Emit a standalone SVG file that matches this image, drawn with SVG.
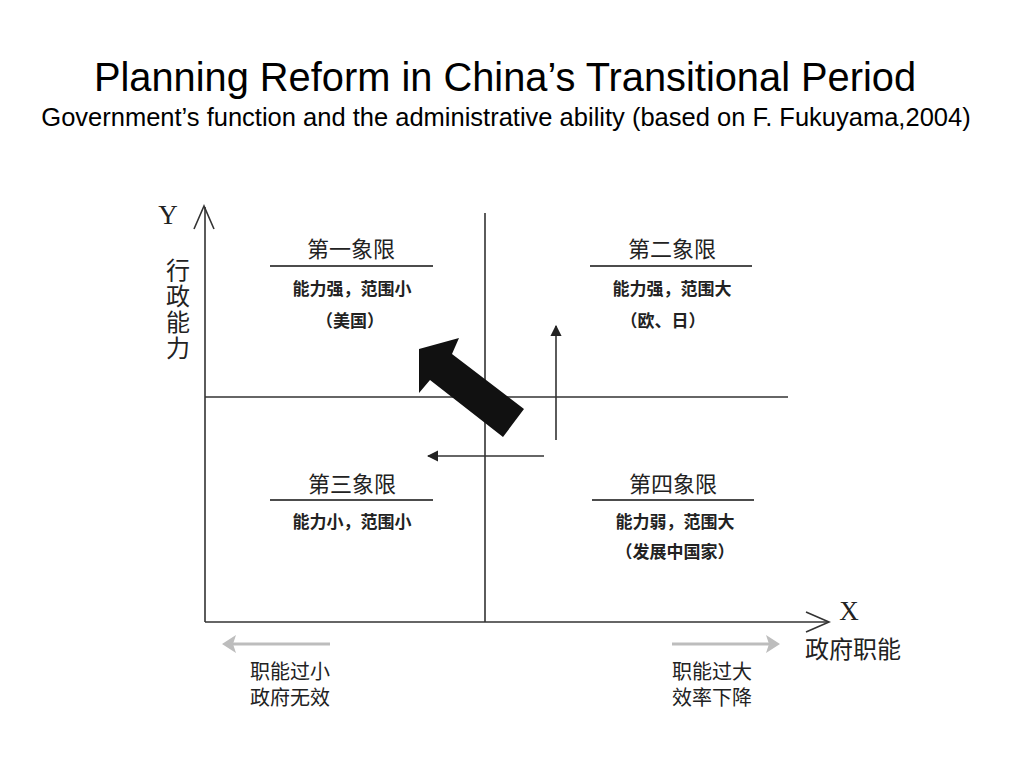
<svg xmlns="http://www.w3.org/2000/svg" width="1024" height="768" viewBox="0 0 1024 768">
<defs>
<style>
.t{font-family:"Liberation Sans",Arial,sans-serif;fill:#000;text-anchor:middle}
.cj{font-family:"Liberation Sans","Noto Sans CJK SC",sans-serif;fill:#222;text-anchor:middle}
.qt{font-size:22px}
.qs{font-size:17px;font-weight:bold}
.side{font-size:20px;text-anchor:start}
.ax{stroke:#333;stroke-width:1.6;fill:none}
.ul{stroke:#111;stroke-width:1.5}
.lat{font-family:"Liberation Serif","Times New Roman",serif;font-size:27px;fill:#222}
.gl{stroke:#bdbdbd;stroke-width:3}
.gh{fill:#bdbdbd}
</style>
<marker id="tri" viewBox="0 0 10 10" refX="9" refY="5" markerWidth="7" markerHeight="9" orient="auto" markerUnits="strokeWidth">
<path d="M0,0 L10,5 L0,10 z" fill="#222"/>
</marker>
</defs>
<rect width="1024" height="768" fill="#fff"/>
<g id="title">
<text class="t" x="505" y="91" font-size="39.8">Planning Reform in China’s Transitional Period</text>
<text class="t" x="506" y="126" font-size="25.5">Government’s function and the administrative ability (based on F. Fukuyama,2004)</text>
</g>
<g id="connectors">
<line class="ax" x1="205" y1="207" x2="205" y2="622"/>
<polyline class="ax" points="194,229 204,206 214,229"/>
<line class="ax" x1="205" y1="622" x2="828" y2="622"/>
<polyline class="ax" points="806,612 829,622 806,632"/>
<line class="ax" x1="205" y1="397" x2="788" y2="397"/>
<line class="ax" x1="485" y1="213" x2="485" y2="622"/>
<line class="ax" x1="556" y1="440" x2="556" y2="326" marker-end="url(#tri)"/>
<line class="ax" x1="544" y1="456" x2="428" y2="456" marker-end="url(#tri)"/>
<polygon points="419,349 459,338 452,354 524,409 503,437 430,380 419,393" fill="#111"/>
<line class="gl" x1="330" y1="644" x2="232" y2="644"/>
<polygon class="gh" points="222,644 236,635 233,644 236,653"/>
<line class="gl" x1="672" y1="644" x2="770" y2="644"/>
<polygon class="gh" points="780,644 766,635 769,644 766,653"/>
</g>
<g id="axis-y">
<text class="lat" x="168" y="224" text-anchor="middle">Y</text>
<text class="cj" x="178" y="279" font-size="24">行</text>
<text class="cj" x="178" y="305" font-size="24">政</text>
<text class="cj" x="178" y="331" font-size="24">能</text>
<text class="cj" x="178" y="357" font-size="24">力</text>
</g>
<g id="axis-x">
<text class="lat" x="849" y="620" text-anchor="middle">X</text>
<text class="cj" x="853" y="658" font-size="24">政府职能</text>
</g>
<g id="q1">
<text class="cj qt" x="351" y="257">第一象限</text>
<line class="ul" x1="270" y1="266" x2="433" y2="266"/>
<text class="cj qs" x="352" y="295">能力强，范围小</text>
<text class="cj qs" x="350" y="327">（美国）</text>
</g>
<g id="q2">
<text class="cj qt" x="672" y="257">第二象限</text>
<line class="ul" x1="590" y1="266" x2="752" y2="266"/>
<text class="cj qs" x="672" y="295">能力强，范围大</text>
<text class="cj qs" x="663" y="327">（欧、日）</text>
</g>
<g id="q3">
<text class="cj qt" x="352" y="492">第三象限</text>
<line class="ul" x1="270" y1="500" x2="433" y2="500"/>
<text class="cj qs" x="352" y="528">能力小，范围小</text>
</g>
<g id="q4">
<text class="cj qt" x="673" y="492">第四象限</text>
<line class="ul" x1="592" y1="500" x2="754" y2="500"/>
<text class="cj qs" x="675" y="528">能力弱，范围大</text>
<text class="cj qs" x="675" y="558">（发展中国家）</text>
</g>
<g id="left-note">
<text class="cj side" x="250" y="679">职能过小</text>
<text class="cj side" x="250" y="705">政府无效</text>
</g>
<g id="right-note">
<text class="cj side" x="672" y="679">职能过大</text>
<text class="cj side" x="672" y="705">效率下降</text>
</g>
</svg>
